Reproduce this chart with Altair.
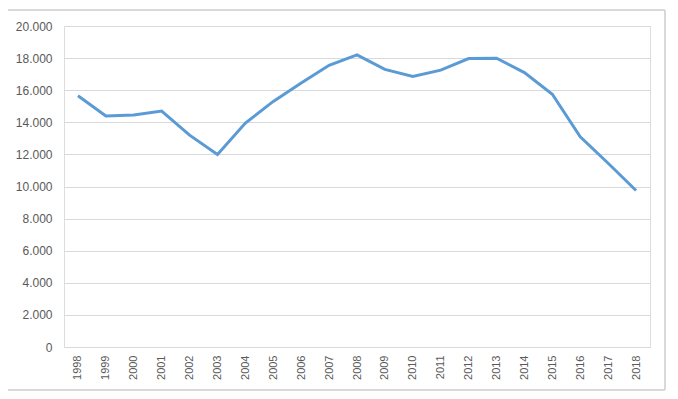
import altair as alt
import pandas as pd

years = [str(y) for y in range(1998, 2019)]
values = [15650, 14400, 14450, 14700, 13200, 12000, 13950, 15300, 16450,
          17550, 18200, 17300, 16850, 17250, 17970, 17990, 17100, 15750,
          13100, 11450, 9750]

df = pd.DataFrame({"year": years, "value": values})

grey = "#595959"
grid = "#d9d9d9"

border = alt.Chart(df).mark_rect(
    fill="transparent", stroke=grid, strokeWidth=1, clip=False
).encode(
    x=alt.value(-58), x2=alt.value(601), y=alt.value(-16), y2=alt.value(364)
)

line = alt.Chart(df).mark_line(color="#5b9bd5", strokeWidth=3).encode(
    x=alt.X("year:O", sort=years, scale=alt.Scale(type="point", padding=0.5),
            axis=alt.Axis(title=None, labelAngle=-90, labelAlign="right",
                          labelBaseline="middle", ticks=False, domain=False,
                          labelColor=grey, labelFontSize=11, labelPadding=8,
                          labelFont="Liberation Sans")),
    y=alt.Y("value:Q", scale=alt.Scale(domain=[0, 20000], nice=False),
            axis=alt.Axis(title=None, values=list(range(0, 20001, 2000)),
                          labelExpr="replace(format(datum.value, ','), ',', '.')",
                          ticks=False, domain=False, gridColor=grid,
                          labelColor=grey, labelFontSize=12, labelPadding=12,
                          labelFont="Liberation Sans")),
)

chart = alt.layer(border, line).properties(
    width=586, height=321,
    autosize=alt.AutoSizeParams(type="none"),
    padding={"left": 56, "top": 18, "right": 20, "bottom": 44},
).configure_view(stroke=None).configure(background="white")

chart.save("out.html", embed_options={"renderer": "svg", "actions": False})
